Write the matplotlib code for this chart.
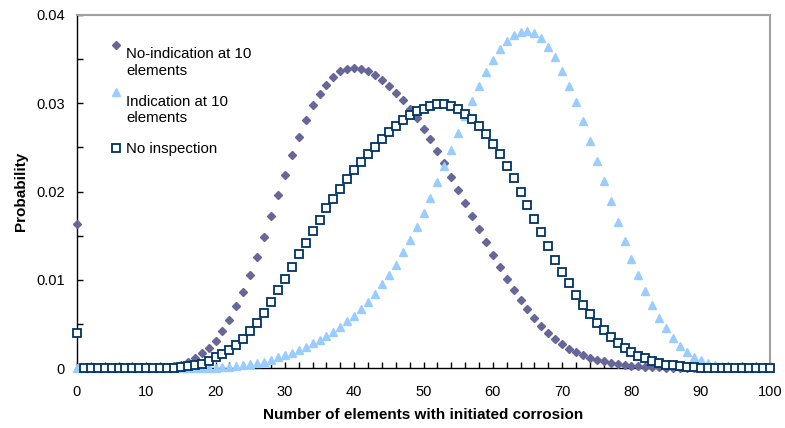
import matplotlib.pyplot as plt
import numpy as np
from matplotlib.ticker import MultipleLocator
from matplotlib.legend_handler import HandlerLine2D

plt.rcParams['font.family'] = ['Liberation Sans', 'DejaVu Sans']

# number of elements with initiated corrosion
n_elements = np.arange(0, 101)

# probability, no indication found at 10 inspected elements
p_no_indication = [
    0.0163, 0, 0, 0, 0, 0, 0, 0, 0, 0,
    0, 0.00002, 0.00005, 0.0001, 0.0002, 0.00035, 0.00065, 0.0011, 0.0017, 0.0023,
    0.0031, 0.0042, 0.0055, 0.0070, 0.0086, 0.0105, 0.0126, 0.0148, 0.0172, 0.0196,
    0.0219, 0.0241, 0.0262, 0.0281, 0.0298, 0.0311, 0.0321, 0.0330, 0.0336, 0.0339,
    0.0340, 0.0339, 0.0336, 0.0332, 0.0326, 0.0320, 0.0312, 0.0304, 0.0294, 0.0283,
    0.0271, 0.0259, 0.0246, 0.0232, 0.0217, 0.0202, 0.0187, 0.0172, 0.0157, 0.0143,
    0.0128, 0.0114, 0.0101, 0.0089, 0.0077, 0.0067, 0.0057, 0.0048, 0.0040, 0.0033,
    0.0027, 0.0022, 0.0018, 0.00144, 0.00118, 0.00095, 0.00076, 0.0006, 0.00046, 0.00035,
    0.00026, 0.0002, 0.00014, 0.0001, 0.00007, 0.00005, 0.00003, 0.00002, 0.00001, 0,
    0, 0, 0, 0, 0, 0, 0, 0, 0, 0,
    0,
]

# probability, indication found at 10 inspected elements
p_indication = [
    0, 0, 0, 0, 0, 0, 0, 0, 0, 0,
    0, 0, 0, 0, 0, 0, 0.00001, 0.00002, 0.00003, 0.00004,
    0.00005, 0.00008, 0.00012, 0.0002, 0.0003, 0.00042, 0.00055, 0.0007, 0.0009, 0.0012,
    0.0015, 0.0017, 0.0020, 0.0024, 0.0028, 0.0032, 0.0036, 0.0041, 0.0047, 0.0053,
    0.0059, 0.0067, 0.0075, 0.0084, 0.0095, 0.0106, 0.0117, 0.0131, 0.0145, 0.0160,
    0.0176, 0.0193, 0.0211, 0.0229, 0.0247, 0.0266, 0.0285, 0.0302, 0.0319, 0.0335,
    0.0349, 0.0361, 0.0371, 0.0377, 0.0381, 0.0382, 0.0380, 0.0374, 0.0364, 0.0352,
    0.0337, 0.0320, 0.0301, 0.0280, 0.0257, 0.0235, 0.0212, 0.0189, 0.0166, 0.0144,
    0.0124, 0.0105, 0.0087, 0.0071, 0.0057, 0.0045, 0.0034, 0.0025, 0.0018, 0.0012,
    0.0009, 0.0006, 0.0004, 0.0002, 0.00015, 0.0001, 0.00005, 0.00003, 0.00002, 0.00001,
    0,
]

# probability without any inspection
p_no_inspection = [
    0.0040, 0, 0, 0, 0, 0, 0, 0, 0, 0,
    0, 0, 0, 0, 0.00005, 0.0001, 0.0002, 0.0003, 0.0005, 0.0008,
    0.0012, 0.0016, 0.0020, 0.0026, 0.0033, 0.0042, 0.0051, 0.0062, 0.0075, 0.0088,
    0.0101, 0.0115, 0.0129, 0.0142, 0.0155, 0.0168, 0.0181, 0.0192, 0.0203, 0.0214,
    0.0224, 0.0234, 0.0242, 0.0251, 0.0259, 0.0267, 0.0274, 0.0281, 0.0287, 0.0291,
    0.0294, 0.0297, 0.0299, 0.0299, 0.0297, 0.0293, 0.0288, 0.0282, 0.0274, 0.0265,
    0.0254, 0.0242, 0.0229, 0.0215, 0.0200, 0.0185, 0.0169, 0.0154, 0.0138, 0.0123,
    0.0109, 0.0096, 0.0083, 0.0071, 0.0061, 0.0051, 0.0043, 0.0035, 0.0028, 0.0023,
    0.0018, 0.0014, 0.0011, 0.0008, 0.0006, 0.0004, 0.0003, 0.0002, 0.00015, 0.0001,
    0.00005, 0, 0, 0, 0, 0, 0, 0, 0, 0,
    0,
]

fig = plt.figure(figsize=(7.85, 4.28), dpi=100)
ax = fig.add_axes([0.098, 0.140, 0.883, 0.825])

ax.plot(n_elements, p_no_indication, linestyle='none', marker='D', ms=4.3,
        color='#666699', mec='#666699', label='No-indication at 10\nelements',
        clip_on=False, zorder=3)
ax.plot(n_elements, p_indication, linestyle='none', marker='^', ms=5.5,
        color='#99CCFF', mec='#99CCFF', label='Indication at 10\nelements',
        clip_on=False, zorder=4)
ax.plot(n_elements, p_no_inspection, linestyle='none', marker='s', ms=5.4,
        mfc='white', mec='#003366', mew=1.3, label='No inspection',
        clip_on=False, zorder=5)

ax.set_xlim(0, 100)
ax.set_ylim(0, 0.04)
ax.xaxis.set_major_locator(MultipleLocator(10))
ax.xaxis.set_minor_locator(MultipleLocator(2))
ax.yaxis.set_major_locator(MultipleLocator(0.01))
ax.yaxis.set_minor_locator(MultipleLocator(0.005))
ax.yaxis.set_major_formatter(lambda v, pos: '0' if v == 0 else f'{v:.2f}')

ax.tick_params(axis='x', which='both', direction='in', length=4, width=1,
               pad=12, labelsize=10.5)
ax.tick_params(axis='y', which='both', direction='in', length=4, width=1,
               pad=8.5, labelsize=10.5)

for side in ['top', 'right']:
    ax.spines[side].set_color('#A0A0A0')
    ax.spines[side].set_linewidth(1.5)
for side in ['left', 'bottom']:
    ax.spines[side].set_color('black')
    ax.spines[side].set_linewidth(1)

ax.set_xlabel('Number of elements with initiated corrosion', fontsize=11,
              fontweight='bold', labelpad=7)
ax.set_ylabel('Probability', fontsize=11, fontweight='bold', labelpad=6)


class FirstLineHandler(HandlerLine2D):
    # keep the marker beside the first text line of a wrapped label
    def __init__(self, lines, **kw):
        super().__init__(**kw)
        self.lines = lines

    def create_artists(self, legend, orig_handle, xdescent, ydescent,
                       width, height, fontsize, trans):
        shift = (self.lines - 1) * 1.2 * fontsize
        return super().create_artists(legend, orig_handle, xdescent,
                                      ydescent - 2 * shift, width, height,
                                      fontsize, trans)


handles, labels = ax.get_legend_handles_labels()
handler_map = {h: FirstLineHandler(lab.count('\n') + 1, numpoints=1)
               for h, lab in zip(handles, labels)}
ax.legend(handles, labels, handler_map=handler_map, loc='upper left',
          bbox_to_anchor=(0.04, 0.925), frameon=False, fontsize=10.8,
          handlelength=0.7, handletextpad=0.35, labelspacing=1.15,
          markerscale=0.95, borderaxespad=0)

fig.savefig('out.png', dpi=100)
